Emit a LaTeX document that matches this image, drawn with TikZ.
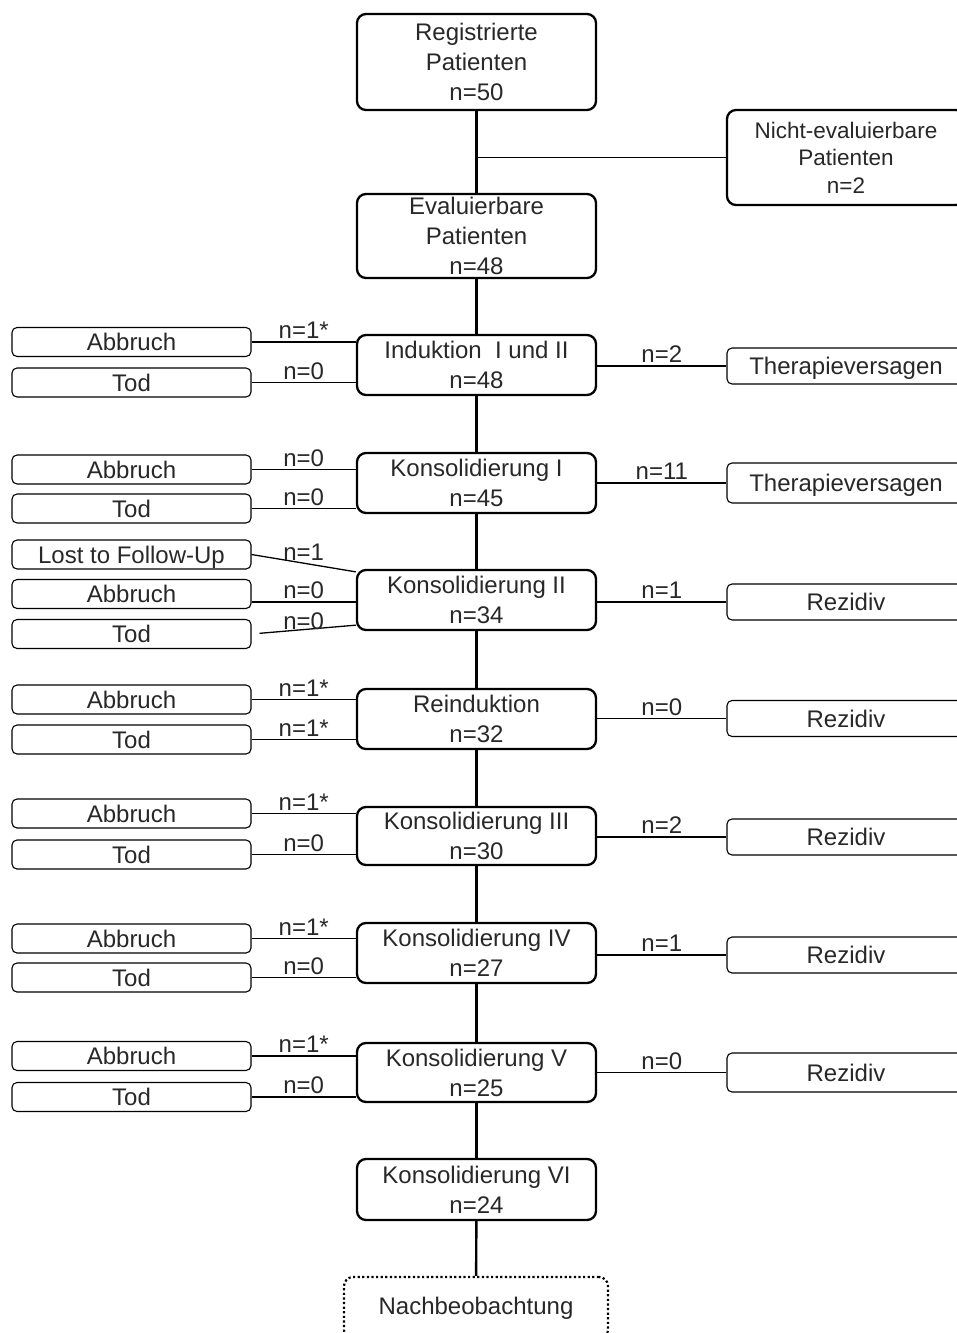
\documentclass[tikz,border=0pt]{standalone}
\usepackage{fontspec}
\setmainfont{Liberation Sans}
\usepackage{xcolor}
\usepackage{tikz}
\definecolor{txt}{RGB}{40,40,40}

\begin{document}
\begin{tikzpicture}[x=1pt,y=-1pt,
  mainbox/.style={draw,rounded corners=9pt,line width=2.3pt,fill=white,align=center,inner sep=0pt,minimum width=239pt,text=txt,font=\fontsize{24}{30}\selectfont},
  sidebox/.style={draw,rounded corners=5pt,line width=1.1pt,fill=white,inner sep=0pt,minimum width=239pt,minimum height=29pt,text height=17.5pt,text depth=0pt,text=txt,font=\fontsize{24}{29}\selectfont},
  outbox/.style={sidebox,minimum width=238pt,minimum height=36pt},
  num/.style={midway,above=2.5pt,inner sep=0pt,text=txt,font=\fontsize{24}{29}\selectfont},
  trunk/.style={line width=2.4pt},
  branch/.style={line width=1.3pt}]

\useasboundingbox (0,0) rectangle (957,1333);
\clip (0,0) rectangle (957,1333);

% main column
\node[mainbox,minimum height=96pt] (reg) at (476.5,62) {Registrierte\\Patienten\\n=50};
\node[mainbox,minimum height=84pt] (eval) at (476.5,236) {Evaluierbare\\Patienten\\n=48};
\node[mainbox,minimum height=60pt] (ind) at (476.5,365) {Induktion\ \ I und II\\n=48};
\node[mainbox,minimum height=60pt] (kons1) at (476.5,483) {Konsolidierung I\\n=45};
\node[mainbox,minimum height=60pt] (kons2) at (476.5,600) {Konsolidierung II\\n=34};
\node[mainbox,minimum height=60pt] (reind) at (476.5,719) {Reinduktion\\n=32};
\node[mainbox,minimum height=58pt] (kons3) at (476.5,836) {Konsolidierung III\\n=30};
\node[mainbox,minimum height=60pt] (kons4) at (476.5,953) {Konsolidierung IV\\n=27};
\node[mainbox,minimum height=59pt] (kons5) at (476.5,1072.5) {Konsolidierung V\\n=25};
\node[mainbox,minimum height=61pt] (kons6) at (476.5,1189.5) {Konsolidierung VI\\n=24};
\node[mainbox,minimum width=264pt,minimum height=62pt,line width=2.2pt,dash pattern=on 2.2pt off 2.4pt] (nach) at (476,1308) {Nachbeobachtung};

% right column
\node[mainbox,minimum width=238pt,minimum height=95pt,font=\fontsize{22.5}{27.5}\selectfont] (nicht) at (846,157.5) {Nicht-evaluierbare\\Patienten\\n=2};
\node[outbox] (versag1) at (846,366) {Therapieversagen};
\node[outbox,minimum height=40pt] (versag2) at (846,483) {Therapieversagen};
\node[outbox] (rez2) at (846,602) {Rezidiv};
\node[outbox] (rezR) at (846,718.5) {Rezidiv};
\node[outbox] (rez3) at (846,837) {Rezidiv};
\node[outbox] (rez4) at (846,955) {Rezidiv};
\node[outbox,minimum height=39pt] (rez5) at (846,1072.5) {Rezidiv};

% left column
\node[sidebox] (abbI) at (131.5,342) {Abbruch};
\node[sidebox] (todI) at (131.5,382.5) {Tod};
\node[sidebox] (abbK1) at (131.5,469.5) {Abbruch};
\node[sidebox] (todK1) at (131.5,508.5) {Tod};
\node[sidebox] (lostK2) at (131.5,554.5) {Lost to Follow-Up};
\node[sidebox] (abbK2) at (131.5,594) {Abbruch};
\node[sidebox] (todK2) at (131.5,634) {Tod};
\node[sidebox] (abbR) at (131.5,699.5) {Abbruch};
\node[sidebox] (todR) at (131.5,739.5) {Tod};
\node[sidebox] (abbK3) at (131.5,813.5) {Abbruch};
\node[sidebox] (todK3) at (131.5,854.5) {Tod};
\node[sidebox] (abbK4) at (131.5,938.5) {Abbruch};
\node[sidebox] (todK4) at (131.5,977.5) {Tod};
\node[sidebox] (abbK5) at (131.5,1056) {Abbruch};
\node[sidebox] (todK5) at (131.5,1097) {Tod};

% trunk
\draw[trunk] (reg)--(eval);
\draw[trunk] (eval)--(ind);
\draw[trunk] (ind)--(kons1);
\draw[trunk] (kons1)--(kons2);
\draw[trunk] (kons2)--(reind);
\draw[trunk] (reind)--(kons3);
\draw[trunk] (kons3)--(kons4);
\draw[trunk] (kons4)--(kons5);
\draw[trunk] (kons5)--(kons6);
\draw[trunk] (kons6)--(nach);
\draw[branch] (reg.south |- nicht.west)--(nicht.west);

% right branches
\draw[branch] (ind.east |- versag1.west)-- node[num]{n=2} (versag1.west);
\draw[branch] (kons1.east |- versag2.west)-- node[num]{n=11} (versag2.west);
\draw[branch] (kons2.east |- rez2.west)-- node[num]{n=1} (rez2.west);
\draw[branch] (reind.east |- rezR.west)-- node[num]{n=0} (rezR.west);
\draw[branch] (kons3.east |- rez3.west)-- node[num]{n=2} (rez3.west);
\draw[branch] (kons4.east |- rez4.west)-- node[num]{n=1} (rez4.west);
\draw[branch] (kons5.east |- rez5.west)-- node[num]{n=0} (rez5.west);

% left branches
\draw[branch] (abbI.east)-- node[num]{n=1*} (abbI.east -| ind.west);
\draw[branch] (todI.east)-- node[num]{n=0} (todI.east -| ind.west);
\draw[branch] (abbK1.east)-- node[num]{n=0} (abbK1.east -| kons1.west);
\draw[branch] (todK1.east)-- node[num]{n=0} (todK1.east -| kons1.west);
\draw[branch] (lostK2.east)-- node[num,above=0pt]{n=1} ([yshift=-3pt]kons2.north west);
\draw[branch] ([yshift=-8pt]abbK2.east)-- node[num]{n=0} ([yshift=-8pt]abbK2.east -| kons2.west);
\draw[branch,shorten <=8pt] (todK2.east)-- node[num,above=-3pt]{n=0} ([yshift=6pt]kons2.south west);
\draw[branch] (abbR.east)-- node[num]{n=1*} (abbR.east -| reind.west);
\draw[branch] (todR.east)-- node[num]{n=1*} (todR.east -| reind.west);
\draw[branch] (abbK3.east)-- node[num]{n=1*} (abbK3.east -| kons3.west);
\draw[branch] (todK3.east)-- node[num]{n=0} (todK3.east -| kons3.west);
\draw[branch] (abbK4.east)-- node[num]{n=1*} (abbK4.east -| kons4.west);
\draw[branch] (todK4.east)-- node[num]{n=0} (todK4.east -| kons4.west);
\draw[branch] (abbK5.east)-- node[num]{n=1*} (abbK5.east -| kons5.west);
\draw[branch] (todK5.east)-- node[num]{n=0} (todK5.east -| kons5.west);
\end{tikzpicture}
\end{document}
